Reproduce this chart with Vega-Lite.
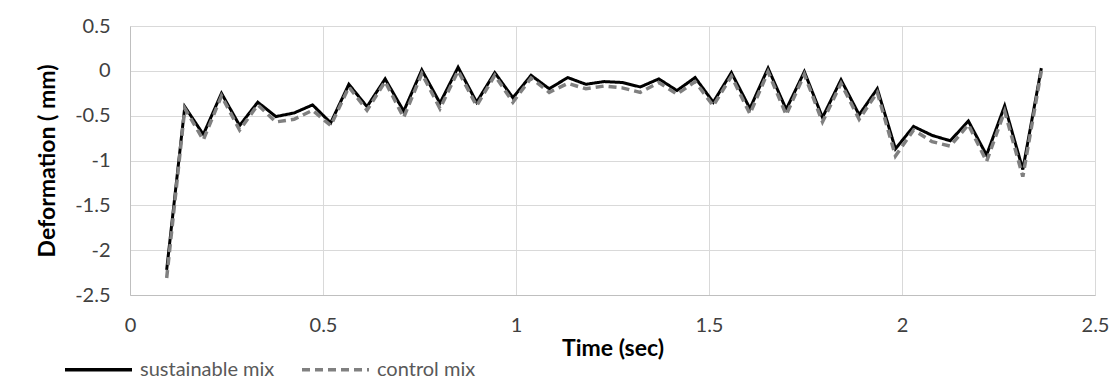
{
  "$schema": "https://vega.github.io/schema/vega-lite/v6.json",
  "width": 965,
  "height": 269,
  "autosize": {"type": "none"},
  "padding": {"left": 130, "top": 26, "right": 25, "bottom": 92},
  "background": "white",
  "config": {
    "font": "Lato",
    "view": {"stroke": null},
    "axis": {
      "gridColor": "#d9d9d9",
      "gridWidth": 1,
      "domainColor": "#bfbfbf",
      "domainWidth": 1,
      "ticks": false,
      "labelFont": "Lato",
      "labelFontSize": 20,
      "labelColor": "#404040",
      "titleFont": "Lato",
      "titleFontSize": 23,
      "titleFontWeight": "bold",
      "titleColor": "#000000"
    }
  },
  "data": {
    "values": [
      {"t": 0.095, "series": "sustainable mix", "v": -2.22},
      {"t": 0.142, "series": "sustainable mix", "v": -0.40},
      {"t": 0.190, "series": "sustainable mix", "v": -0.71},
      {"t": 0.237, "series": "sustainable mix", "v": -0.25},
      {"t": 0.284, "series": "sustainable mix", "v": -0.61},
      {"t": 0.331, "series": "sustainable mix", "v": -0.35},
      {"t": 0.378, "series": "sustainable mix", "v": -0.51},
      {"t": 0.425, "series": "sustainable mix", "v": -0.47},
      {"t": 0.473, "series": "sustainable mix", "v": -0.38},
      {"t": 0.520, "series": "sustainable mix", "v": -0.58},
      {"t": 0.567, "series": "sustainable mix", "v": -0.15},
      {"t": 0.614, "series": "sustainable mix", "v": -0.40},
      {"t": 0.661, "series": "sustainable mix", "v": -0.09},
      {"t": 0.709, "series": "sustainable mix", "v": -0.45},
      {"t": 0.756, "series": "sustainable mix", "v": 0.01},
      {"t": 0.803, "series": "sustainable mix", "v": -0.36},
      {"t": 0.850, "series": "sustainable mix", "v": 0.04},
      {"t": 0.898, "series": "sustainable mix", "v": -0.35},
      {"t": 0.945, "series": "sustainable mix", "v": -0.02},
      {"t": 0.992, "series": "sustainable mix", "v": -0.30},
      {"t": 1.039, "series": "sustainable mix", "v": -0.05},
      {"t": 1.086, "series": "sustainable mix", "v": -0.20},
      {"t": 1.134, "series": "sustainable mix", "v": -0.075},
      {"t": 1.181, "series": "sustainable mix", "v": -0.15},
      {"t": 1.228, "series": "sustainable mix", "v": -0.12},
      {"t": 1.275, "series": "sustainable mix", "v": -0.13},
      {"t": 1.322, "series": "sustainable mix", "v": -0.18},
      {"t": 1.370, "series": "sustainable mix", "v": -0.09},
      {"t": 1.417, "series": "sustainable mix", "v": -0.22},
      {"t": 1.464, "series": "sustainable mix", "v": -0.075},
      {"t": 1.511, "series": "sustainable mix", "v": -0.35},
      {"t": 1.558, "series": "sustainable mix", "v": -0.02},
      {"t": 1.606, "series": "sustainable mix", "v": -0.42},
      {"t": 1.653, "series": "sustainable mix", "v": 0.03},
      {"t": 1.700, "series": "sustainable mix", "v": -0.43},
      {"t": 1.747, "series": "sustainable mix", "v": -0.01},
      {"t": 1.794, "series": "sustainable mix", "v": -0.52},
      {"t": 1.842, "series": "sustainable mix", "v": -0.10},
      {"t": 1.889, "series": "sustainable mix", "v": -0.49},
      {"t": 1.936, "series": "sustainable mix", "v": -0.20},
      {"t": 1.983, "series": "sustainable mix", "v": -0.87},
      {"t": 2.030, "series": "sustainable mix", "v": -0.62},
      {"t": 2.078, "series": "sustainable mix", "v": -0.72},
      {"t": 2.125, "series": "sustainable mix", "v": -0.78},
      {"t": 2.172, "series": "sustainable mix", "v": -0.56},
      {"t": 2.219, "series": "sustainable mix", "v": -0.94},
      {"t": 2.266, "series": "sustainable mix", "v": -0.39},
      {"t": 2.313, "series": "sustainable mix", "v": -1.10},
      {"t": 2.361, "series": "sustainable mix", "v": 0.03},
      {"t": 0.095, "series": "control mix", "v": -2.31},
      {"t": 0.142, "series": "control mix", "v": -0.42},
      {"t": 0.190, "series": "control mix", "v": -0.77},
      {"t": 0.237, "series": "control mix", "v": -0.28},
      {"t": 0.284, "series": "control mix", "v": -0.66},
      {"t": 0.331, "series": "control mix", "v": -0.38},
      {"t": 0.378, "series": "control mix", "v": -0.57},
      {"t": 0.425, "series": "control mix", "v": -0.54},
      {"t": 0.473, "series": "control mix", "v": -0.44},
      {"t": 0.520, "series": "control mix", "v": -0.61},
      {"t": 0.567, "series": "control mix", "v": -0.18},
      {"t": 0.614, "series": "control mix", "v": -0.44},
      {"t": 0.661, "series": "control mix", "v": -0.12},
      {"t": 0.709, "series": "control mix", "v": -0.52},
      {"t": 0.756, "series": "control mix", "v": -0.03},
      {"t": 0.803, "series": "control mix", "v": -0.42},
      {"t": 0.850, "series": "control mix", "v": 0.0},
      {"t": 0.898, "series": "control mix", "v": -0.39},
      {"t": 0.945, "series": "control mix", "v": -0.05},
      {"t": 0.992, "series": "control mix", "v": -0.35},
      {"t": 1.039, "series": "control mix", "v": -0.08},
      {"t": 1.086, "series": "control mix", "v": -0.24},
      {"t": 1.134, "series": "control mix", "v": -0.14},
      {"t": 1.181, "series": "control mix", "v": -0.20},
      {"t": 1.228, "series": "control mix", "v": -0.17},
      {"t": 1.275, "series": "control mix", "v": -0.19},
      {"t": 1.322, "series": "control mix", "v": -0.24},
      {"t": 1.370, "series": "control mix", "v": -0.13},
      {"t": 1.417, "series": "control mix", "v": -0.26},
      {"t": 1.464, "series": "control mix", "v": -0.12},
      {"t": 1.511, "series": "control mix", "v": -0.39},
      {"t": 1.558, "series": "control mix", "v": -0.06},
      {"t": 1.606, "series": "control mix", "v": -0.48},
      {"t": 1.653, "series": "control mix", "v": -0.01},
      {"t": 1.700, "series": "control mix", "v": -0.49},
      {"t": 1.747, "series": "control mix", "v": -0.04},
      {"t": 1.794, "series": "control mix", "v": -0.57},
      {"t": 1.842, "series": "control mix", "v": -0.14},
      {"t": 1.889, "series": "control mix", "v": -0.54},
      {"t": 1.936, "series": "control mix", "v": -0.24},
      {"t": 1.983, "series": "control mix", "v": -0.95},
      {"t": 2.030, "series": "control mix", "v": -0.66},
      {"t": 2.078, "series": "control mix", "v": -0.79},
      {"t": 2.125, "series": "control mix", "v": -0.84},
      {"t": 2.172, "series": "control mix", "v": -0.60},
      {"t": 2.219, "series": "control mix", "v": -1.01},
      {"t": 2.266, "series": "control mix", "v": -0.45},
      {"t": 2.313, "series": "control mix", "v": -1.18},
      {"t": 2.361, "series": "control mix", "v": 0.0}
    ]
  },
  "encoding": {
    "x": {
      "field": "t", "type": "quantitative",
      "scale": {"domain": [0, 2.5], "nice": false, "zero": false},
      "axis": {
        "title": "Time (sec)",
        "values": [0, 0.5, 1, 1.5, 2, 2.5],
        "labelExpr": "'' + datum.value",
        "labelPadding": 20,
        "titlePadding": 2,
        "labelFlush": false
      }
    },
    "y": {
      "field": "v", "type": "quantitative",
      "scale": {"domain": [-2.5, 0.5], "nice": false, "zero": false},
      "axis": {
        "title": "Deformation ( mm)",
        "values": [-2.5, -2, -1.5, -1, -0.5, 0, 0.5],
        "labelExpr": "'' + datum.value",
        "labelPadding": 20,
        "titlePadding": 15,
        "labelFlush": false
      }
    },
    "color": {
      "field": "series", "type": "nominal",
      "scale": {"domain": ["sustainable mix", "control mix"], "range": ["#000000", "#808080"]},
      "legend": {
        "title": null,
        "orient": "none",
        "legendX": -67,
        "legendY": 308,
        "direction": "horizontal",
        "symbolType": "stroke",
        "symbolSize": 4489,
        "symbolStrokeWidth": 3.5,
        "labelFont": "Lato",
        "labelFontSize": 20,
        "labelColor": "#595959",
        "labelOffset": 6,
        "columnPadding": 20
      }
    },
    "strokeDash": {
      "field": "series", "type": "nominal",
      "scale": {"domain": ["sustainable mix", "control mix"], "range": [[1, 0], [8, 5]]},
      "legend": null
    }
  },
  "layer": [
    {
      "transform": [{"filter": "datum.series == 'sustainable mix'"}],
      "mark": {"type": "line", "strokeWidth": 3, "strokeJoin": "miter", "clip": false}
    },
    {
      "transform": [{"filter": "datum.series == 'control mix'"}],
      "mark": {"type": "line", "strokeWidth": 3.5, "strokeJoin": "miter", "clip": false}
    }
  ]
}
